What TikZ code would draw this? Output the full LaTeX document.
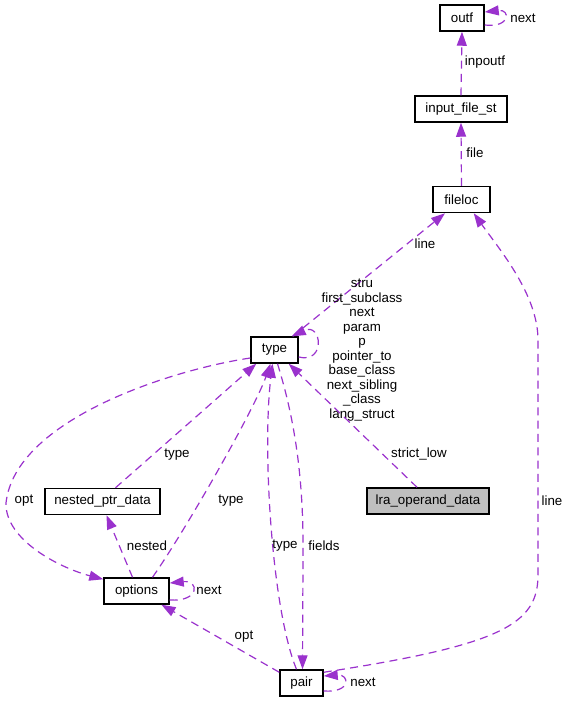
\documentclass[tikz,border=0pt]{standalone}
\usepackage{fontspec}
\setmainfont{Liberation Sans}
\usetikzlibrary{arrows.meta,calc}
\definecolor{edgec}{HTML}{9A32CD}
\definecolor{grayfill}{HTML}{BFBFBF}
\begin{document}
\begin{tikzpicture}[x=0.75pt,y=-0.75pt,
  box/.style={draw=black,line width=1.1pt,fill=white,minimum height=19.5pt,inner sep=0pt,font=\fontsize{10}{12}\selectfont},
  edge/.style={draw=edgec,line width=0.9pt,dash pattern=on 6pt off 4pt,-{Triangle[length=10.5pt,width=7.5pt]}},
  lbl/.style={font=\fontsize{10}{12}\selectfont,inner sep=0pt}]
\useasboundingbox (0,0) rectangle (569,701);

% nodes
\node[box,minimum width=33pt] (outf) at (462,18) {outf};
\node[box,minimum width=69pt] (ifs) at (461,109) {input\_file\_st};
\node[box,minimum width=42.75pt] (fileloc) at (461.5,199.5) {fileloc};
\node[box,minimum width=35.25pt] (type) at (274.5,350) {type};
\node[box,fill=grayfill,minimum width=91.5pt] (lra) at (428,501) {lra\_operand\_data};
\node[box,minimum width=86.25pt] (npd) at (102.5,501.5) {nested\_ptr\_data};
\node[box,minimum width=48.75pt] (options) at (136.5,591) {options};
\node[box,minimum width=32.25pt] (pair) at (301.5,683) {pair};

% outf self loop
\draw[edge] ($(outf.east)+(0,7)$) .. controls +(26,3) and +(26,-3) .. ($(outf.east)+(0,-6)$);
\node[lbl] (lnextoutf) at (523,18) {next};

% input_file_st -> outf
\draw[edge] (ifs.north) -- (outf.south);
\node[lbl] (linpoutf) at (485,62) {inpoutf};

% fileloc -> input_file_st
\draw[edge] (fileloc.north) -- (ifs.south);
\node[lbl] (lfile) at (475,153) {file};

% type -> fileloc
\draw[edge] ($(type.north east)+(-6,0)$) -- ($(fileloc.south)+(-16.5,0)$);
\node[lbl] (lline1) at (425,244) {line};

% type self loop
\draw[edge] ($(type.east)+(0,7)$) .. controls (326,364) and (322,322) .. ($(type.north east)+(-7,0)$);
\node[lbl,align=center,font=\fontsize{10}{10.9}\selectfont] (ltypeloop) at (362,350)
  {stru\\first\_subclass\\next\\param\\p\\pointer\_to\\base\_class\\next\_sibling\\\_class\\lang\_struct};

% lra_operand_data -> type
\draw[edge] ($(lra.north)+(-11,0)$) -- ($(type.south east)+(-10,0)$);
\node[lbl] (lstrict) at (419,454) {strict\_low};

% nested_ptr_data -> type
\draw[edge] ($(npd.north)+(13,0)$) -- ($(type.south west)+(6,0)$);
\node[lbl] (ltype1) at (177,455) {type};

% options -> type
\draw[edge] ($(options.north)+(16,0)$) .. controls (187,528) and (255,408) .. ($(type.south)+(-4,0)$);
\node[lbl] (ltype2) at (231,501) {type};

% type -> options (opt)
\draw[edge] ($(type.west)+(0,8)$) .. controls (170,370) and (15,420) .. (6,503)
  .. controls (5,540) and (60,568) .. ($(options.north west)+(0,2)$);
\node[lbl] (lopt1) at (24,501) {opt};

% options -> nested_ptr_data
\draw[edge] ($(options.north)+(-4,0)$) -- ($(npd.south)+(4,0)$);
\node[lbl] (lnested) at (147,546) {nested};

% options self loop
\draw[edge] ($(options.east)+(0,9)$) .. controls +(30,2) and +(30,-3) .. ($(options.east)+(0,-8)$);
\node[lbl] (lnextopt) at (209,590) {next};

% pair -> type
\draw[edge] ($(pair.north)+(-5,0)$) .. controls (272,610) and (262,450) .. ($(type.south)+(-2,0)$);
\node[lbl] (ltype3) at (285,546) {type};

% type -> pair (fields)
\draw[edge] ($(type.south)+(3,0)$) .. controls (295,420) and (304,480) .. (303,560) -- ($(pair.north)+(1,0)$);
\node[lbl] (lfields) at (324,546) {fields};

% pair -> options (opt)
\draw[edge] ($(pair.north west)+(0,3)$) -- ($(options.south)+(25,0)$);
\node[lbl] (lopt2) at (244,637) {opt};

% pair self loop
\draw[edge] ($(pair.east)+(0,8)$) .. controls +(28,2) and +(26,-2) .. ($(pair.east)+(0,-7)$);
\node[lbl] (lnextpair) at (363,682) {next};

% pair -> fileloc (line)
\draw[edge] ($(pair.north east)+(0,3)$) .. controls (500,645) and (538,625) .. (538,575)
  -- (538,340) .. controls (538,295) and (500,250) .. ($(fileloc.south east)+(-17,0)$);
\node[lbl] (lline2) at (552,501) {line};
\end{tikzpicture}
\end{document}
